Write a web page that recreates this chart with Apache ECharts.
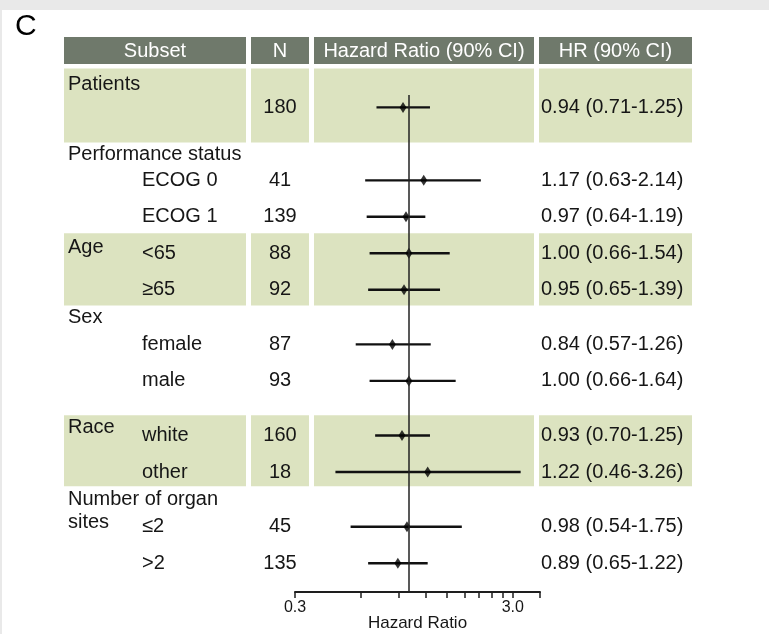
<!DOCTYPE html>
<html>
<head>
<meta charset="utf-8">
<script src="https://cdn.jsdelivr.net/npm/echarts@6/dist/echarts.min.js"></script>
<style>
  html, body { margin: 0; padding: 0; background: #fff; }
  #chart { width: 769px; height: 634px; }
</style>
</head>
<body>
<div id="chart"></div>
<script>
// ---- data ----
const headers = ['Subset', 'N', 'Hazard Ratio (90% CI)', 'HR (90% CI)'];
const groupNames = ['Patients', 'Performance status', 'Age', 'Sex', 'Race', 'Number of organ\nsites'];
const subgroupNames = ['', 'ECOG 0', 'ECOG 1', '<65', '\u226565', 'female', 'male', 'white', 'other', '\u22642', '>2'];
const nValues = [180, 41, 139, 88, 92, 87, 93, 160, 18, 45, 135];
const hrValues = [0.94, 1.17, 0.97, 1.00, 0.95, 0.84, 1.00, 0.93, 1.22, 0.98, 0.89];
const ciLower = [0.71, 0.63, 0.64, 0.66, 0.65, 0.57, 0.66, 0.70, 0.46, 0.54, 0.65];
const ciUpper = [1.25, 2.14, 1.19, 1.54, 1.39, 1.26, 1.64, 1.25, 3.26, 1.75, 1.22];
const axisTickValues = [0.3, 0.6, 0.9, 1.2, 1.5, 1.8, 2.1, 2.4, 2.7, 3.0, 4.0];
const axisLabelValues = [0.3, 3.0];
const axisMin = 0.3;
const axisMax = 4.0;
const referenceHR = 1.0;

// ---- layout (vertical positions in text-line slots) ----
const rowSlot = [0, 2, 3, 4, 5, 6.5, 7.5, 9, 10, 11.5, 12.5];
const groupSlot = [-0.63, 1.3, 3.84, 5.75, 8.77, 11.08];
const shadedBands = [[-1.07, 0.96], [3.45, 5.43], [8.44, 10.39]];
const columns = [[64, 246], [251, 309], [314, 534], [539, 692]];
const headerTop = 37, headerBottom = 64;
const xGroup = 68, xSub = 142, xN = 280, xHR = 541;

const FONT = '"Liberation Sans", Arial, Helvetica, sans-serif';
const INK = '#161616';
const HEADER_BG = '#6f796b';
const BAND_BG = '#dce3c0';

const log10 = v => Math.log10(v);
const fmt = v => v.toFixed(2);

const chart = echarts.init(document.getElementById('chart'), null, { renderer: 'canvas' });

const option = {
  animation: false,
  backgroundColor: '#ffffff',
  grid: { left: 295, right: 229, top: 95, bottom: 42, containLabel: false, outerBoundsMode: 'none' },
  xAxis: {
    type: 'value',
    min: log10(axisMin),
    max: log10(axisMax),
    splitLine: { show: false },
    axisLine: { show: true, onZero: false, lineStyle: { color: '#1e1e1e', width: 2 } },
    axisTick: {
      show: true, inside: false, length: 6,
      customValues: axisTickValues.map(log10),
      lineStyle: { color: '#1e1e1e', width: 1.5 }
    },
    axisLabel: {
      show: true, margin: 8,
      customValues: axisLabelValues.map(log10),
      formatter: v => Math.pow(10, v).toFixed(1),
      color: INK, fontFamily: FONT, fontSize: 16
    },
    name: 'Hazard Ratio',
    nameLocation: 'middle',
    nameGap: 23,
    nameMoveOverlap: false,
    nameTextStyle: { color: INK, fontFamily: FONT, fontSize: 17 }
  },
  yAxis: {
    type: 'value',
    inverse: true,
    min: -0.34,
    max: 13.29,
    show: false
  },
  series: [
    {
      type: 'custom',
      name: 'CI',
      clip: false,
      data: hrValues.map((v, i) => [log10(ciLower[i]), log10(ciUpper[i]), rowSlot[i]]),
      encode: { x: [0, 1], y: 2 },
      renderItem: (params, api) => {
        const a = api.coord([api.value(0), api.value(2)]);
        const b = api.coord([api.value(1), api.value(2)]);
        return {
          type: 'line',
          shape: { x1: a[0], y1: a[1], x2: b[0], y2: b[1] },
          style: { stroke: '#111', lineWidth: 2.4 }
        };
      },
      z: 3
    },
    {
      type: 'scatter',
      name: 'HR',
      data: hrValues.map((v, i) => [log10(v), rowSlot[i]]),
      symbol: 'diamond',
      symbolSize: [7, 11],
      itemStyle: { color: '#000' },
      z: 4,
      markLine: {
        silent: true,
        symbol: 'none',
        label: { show: false },
        lineStyle: { color: '#222', width: 1.5, type: 'solid' },
        data: [{ xAxis: log10(referenceHR) }]
      }
    }
  ]
};

chart.setOption(option);

// ---- table: header cells, shaded bands and text columns ----
const yPix = s => chart.convertToPixel({ yAxisIndex: 0 }, s);
const textEl = (text, x, y, extra) => ({
  type: 'text',
  silent: true,
  style: Object.assign({
    text, x, y,
    fill: INK,
    font: '20px ' + FONT,
    align: 'left',
    verticalAlign: 'middle'
  }, extra || {})
});

const graphics = [];

// page frame
graphics.push({ type: 'rect', silent: true, shape: { x: 0, y: 0, width: 769, height: 10 }, style: { fill: '#e9e9e9' } });
graphics.push({ type: 'rect', silent: true, shape: { x: 0, y: 0, width: 2, height: 634 }, style: { fill: '#e9e9e9' } });

// panel letter
graphics.push(textEl('C', 15, 27, { font: '30px ' + FONT, fill: '#000' }));

// header
columns.forEach((c, i) => {
  graphics.push({
    type: 'rect', silent: true,
    shape: { x: c[0], y: headerTop, width: c[1] - c[0], height: headerBottom - headerTop },
    style: { fill: HEADER_BG }
  });
  graphics.push(textEl(headers[i], (c[0] + c[1]) / 2, (headerTop + headerBottom) / 2 + 1,
    { fill: '#ffffff', align: 'center' }));
});

// shaded bands across all columns
shadedBands.forEach(b => {
  const y0 = yPix(b[0]), y1 = yPix(b[1]);
  columns.forEach(c => {
    graphics.push({
      type: 'rect', silent: true, z: -1,
      shape: { x: c[0], y: y0, width: c[1] - c[0], height: y1 - y0 },
      style: { fill: BAND_BG }
    });
  });
});

// group names
groupNames.forEach((g, i) => {
  graphics.push(textEl(g, xGroup, yPix(groupSlot[i]), { lineHeight: 23 }));
});

// subgroup rows: label, N and HR (CI)
subgroupNames.forEach((s, i) => {
  const y = yPix(rowSlot[i]);
  if (s) graphics.push(textEl(s, xSub, y));
  graphics.push(textEl(String(nValues[i]), xN, y, { align: 'center' }));
  graphics.push(textEl(fmt(hrValues[i]) + ' (' + fmt(ciLower[i]) + '-' + fmt(ciUpper[i]) + ')', xHR, y));
});

chart.setOption({ graphic: { elements: graphics } });
</script>
</body>
</html>
